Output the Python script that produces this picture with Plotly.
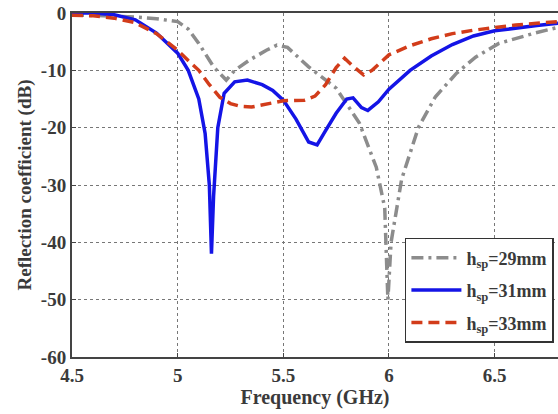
import plotly.graph_objects as go

# ---- data ----
f29 = [4.5, 4.6, 4.7, 4.8, 4.9, 5.0, 5.05, 5.1, 5.17, 5.23, 5.27, 5.34, 5.42, 5.47, 5.52,
       5.62, 5.75, 5.86, 5.94, 5.98, 5.995, 6.01, 6.06, 6.14, 6.22, 6.32, 6.41, 6.52, 6.69, 6.8]
s29 = [-0.3, -0.4, -0.5, -0.7, -1.0, -1.5, -2.8, -5.3, -9.4, -11.7, -10.0, -8.2, -6.5, -5.6, -6.0,
       -9.4, -13.1, -19.2, -26.9, -34.0, -50.0, -40.0, -29.0, -19.9, -14.6, -10.5, -7.7, -5.3, -3.5, -2.5]

f31 = [4.5, 4.6, 4.7, 4.8, 4.9, 5.0, 5.05, 5.1, 5.13, 5.15, 5.16, 5.17, 5.19, 5.22, 5.27, 5.33,
       5.4, 5.45, 5.5, 5.56, 5.62, 5.66, 5.7, 5.75, 5.8, 5.83, 5.87, 5.9, 5.95, 6.0, 6.1, 6.2,
       6.3, 6.4, 6.5, 6.6, 6.7, 6.8]
s31 = [0.0, 0.0, -0.3, -1.2, -3.5, -7.0, -10.0, -15.0, -21.0, -30.0, -42.0, -32.0, -20.0, -14.0, -12.0, -11.7,
       -12.5, -13.5, -15.2, -18.5, -22.5, -23.0, -20.5, -17.5, -15.0, -14.8, -16.5, -17.0, -15.5, -13.3, -10.0, -7.5,
       -5.5, -4.0, -3.1, -2.6, -2.2, -1.8]

f33 = [4.5, 4.6, 4.7, 4.8, 4.9, 5.0, 5.05, 5.1, 5.15, 5.2, 5.25, 5.3, 5.35, 5.4, 5.5, 5.6,
       5.65, 5.7, 5.75, 5.79, 5.83, 5.88, 5.92, 6.0, 6.1, 6.2, 6.3, 6.4, 6.5, 6.6, 6.7, 6.8]
s33 = [-0.4, -0.5, -0.9, -1.7, -3.6, -6.5, -8.3, -10.0, -12.5, -14.7, -15.8, -16.3, -16.4, -16.0, -15.3, -15.2,
       -14.5, -12.5, -9.5, -7.9, -9.3, -10.8, -10.0, -7.3, -5.7, -4.5, -3.6, -3.0, -2.5, -2.1, -1.8, -1.5]

names = ["h<sub>sp</sub>=29mm", "h<sub>sp</sub>=31mm", "h<sub>sp</sub>=33mm"]
xticks = [4.5, 5, 5.5, 6, 6.5]
yticks = [0, -10, -20, -30, -40, -50, -60]

FONT = "Liberation Serif"
TXT = "#3a3a3a"

fig = go.Figure()
fig.add_trace(go.Scatter(x=f29, y=s29, mode="lines", name=names[0], legendgroup="g29",
                         line=dict(color="#8c8c8c", width=3.5, dash="12px,5px,3px,5px")))
fig.add_trace(go.Scatter(x=f31, y=s31, mode="lines", name=names[1], legendgroup="g31",
                         line=dict(color="#1414e6", width=3.5)))
fig.add_trace(go.Scatter(x=f33, y=s33, mode="lines", name=names[2], legendgroup="g33",
                         line=dict(color="#d23c1a", width=3.5, dash="11px,6px")))

fig.update_layout(
    width=558, height=414,
    margin=dict(l=72, r=0, t=13, b=57),
    paper_bgcolor="white", plot_bgcolor="white",
    font=dict(family=FONT, size=18, color=TXT),
    showlegend=True,
    legend=dict(x=0.685, y=0.346, xanchor="left", yanchor="top",
                bgcolor="white", bordercolor="#333333", borderwidth=1.5,
                font=dict(family=FONT, size=18, color=TXT, weight="bold"),
                itemwidth=50, tracegroupgap=6),
)
fig.update_xaxes(range=[4.5, 6.8], tickvals=xticks, ticktext=[str(t) for t in xticks],
                 showgrid=True, gridcolor="#777777", griddash="dot", gridwidth=1,
                 showline=True, linecolor="#444444", linewidth=2, mirror=True,
                 ticks="inside", ticklen=4, zeroline=False,
                 tickfont=dict(family=FONT, size=19, weight="bold", color=TXT),
                 title=dict(text="Frequency (GHz)", standoff=2,
                            font=dict(family=FONT, size=20, weight="bold", color=TXT)))
fig.update_yaxes(range=[-60, 0], tickvals=yticks, ticktext=[str(t) for t in yticks],
                 showgrid=True, gridcolor="#777777", griddash="dot", gridwidth=1,
                 showline=True, linecolor="#444444", linewidth=2, mirror=False,
                 ticks="inside", ticklen=4, zeroline=False,
                 tickfont=dict(family=FONT, size=19, weight="bold", color=TXT),
                 title=dict(text="Reflection coefficient (dB)", standoff=4,
                            font=dict(family=FONT, size=19, weight="bold", color=TXT)))

fig.write_html("out.html")
